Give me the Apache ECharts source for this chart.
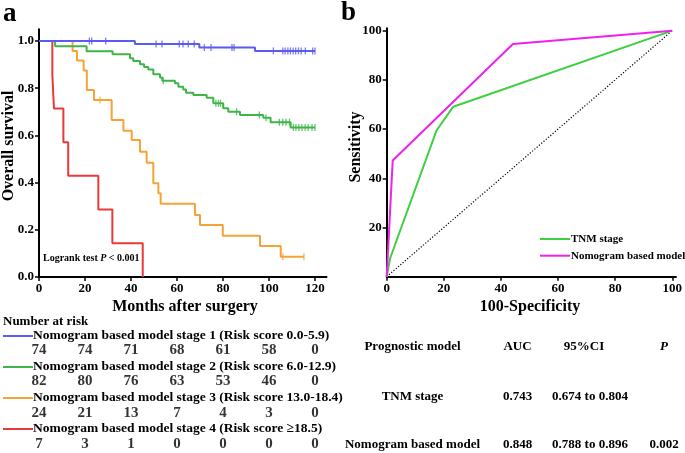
<!DOCTYPE html>
<html><head><meta charset="utf-8">
<script src="https://cdn.jsdelivr.net/npm/echarts@6/dist/echarts.min.js"></script>
<style>html,body{margin:0;padding:0;background:#fff}#c{width:685px;height:453px}</style>
</head><body><div id="c"></div>
<script>
// ---------- DATA ----------
const monthTicks = [0, 20, 40, 60, 80, 100, 120];
const survTicks = [0, 0.2, 0.4, 0.6, 0.8, 1.0];

const stageNames = [
  'Nomogram based model stage 1 (Risk score 0.0-5.9)',
  'Nomogram based model stage 2 (Risk score 6.0-12.9)',
  'Nomogram based model stage 3 (Risk score 13.0-18.4)',
  'Nomogram based model stage 4 (Risk score \u226518.5)'
];

// Kaplan-Meier step points: event time (months) and survival after the event
const s1Time = [0, 41.7, 69.7, 93.9, 120];
const s1Surv = [1, 0.987, 0.972, 0.958, 0.958];
const s1Cens = [21.9, 22.9, 29, 50.9, 53.5, 61, 62.6, 64.9, 67.5, 71.9, 74.8, 83.9, 84.8, 101.9, 106, 107, 108.2, 109.3, 110.5, 111.6, 112.8, 114, 115.8, 119, 120];

const s2Time = [0, 7, 20.7, 32, 39.6, 41, 43.9, 45.7, 47.5, 49.7, 52.6, 53.6, 59.1, 60.6, 62.7, 63.9, 67.1, 72.9, 75.8, 80.1, 82.3, 87.4, 97.5, 100.7, 109.4, 120];
const s2Surv = [1, 0.978, 0.957, 0.944, 0.927, 0.915, 0.901, 0.89, 0.879, 0.859, 0.845, 0.832, 0.821, 0.806, 0.795, 0.781, 0.771, 0.76, 0.736, 0.715, 0.7, 0.686, 0.675, 0.656, 0.634, 0.634];
const s2Cens = [54, 76.9, 78, 78.9, 85.9, 95.8, 98.7, 104.5, 106, 107.4, 108.9, 110.6, 111.7, 113, 114.3, 115.7, 117, 118.7, 120];

const s3Time = [0, 14.6, 16.5, 19.4, 20.8, 23.9, 31.6, 36.7, 40.3, 43.9, 46.8, 49.7, 51.9, 52.9, 67.8, 70, 79.9, 96.1, 105.1, 115.2];
const s3Surv = [1, 0.958, 0.917, 0.875, 0.792, 0.75, 0.665, 0.62, 0.58, 0.531, 0.484, 0.397, 0.355, 0.31, 0.263, 0.22, 0.175, 0.131, 0.086, 0.086];
const s3Cens = [26.5, 106, 115.2];

const s4Time = [0, 5.8, 6.5, 10.6, 12.7, 25.8, 31.9, 45.1];
const s4Surv = [1, 0.857, 0.714, 0.571, 0.429, 0.286, 0.143, 0];
const s4Cens = [];

const riskTimes = [0, 20, 40, 60, 80, 100, 120];
const risk1 = [74, 74, 71, 68, 61, 58, 0];
const risk2 = [82, 80, 76, 63, 53, 46, 0];
const risk3 = [24, 21, 13, 7, 4, 3, 0];
const risk4 = [7, 3, 1, 0, 0, 0, 0];

// ROC curves (100-Specificity, Sensitivity)
const rocTicks = [0, 20, 40, 60, 80, 100];
const tnmX = [0, 1.2, 17.4, 23.3, 100];
const tnmY = [0, 7.5, 59.3, 69.1, 100];
const nomoX = [0, 2.1, 44.2, 100];
const nomoY = [0, 47.2, 94.6, 100];
const refX = [0, 100];
const refY = [0, 100];

const tableHeader = ['Prognostic model', 'AUC', '95%CI', 'P'];
const tableRows = [
  ['TNM stage', '0.743', '0.674 to 0.804', ''],
  ['Nomogram based model', '0.848', '0.788 to 0.896', '0.002']
];

// ---------- STYLE ----------
const FONT = '"Liberation Serif", "Times New Roman", serif';
const colors = ['#5b5bf2', '#3db549', '#f7a236', '#e63a3a'];
const rocGreen = '#3fcf3f', rocMag = '#ee22ee';

function pairs(xs, ys) { return xs.map((x, i) => [x, ys[i]]); }
function survAt(times, surv, t) {
  let v = surv[0];
  for (let i = 0; i < times.length; i++) { if (times[i] <= t) v = surv[i]; }
  return v;
}

const kmTimes = [s1Time, s2Time, s3Time, s4Time];
const kmSurv = [s1Surv, s2Surv, s3Surv, s4Surv];
const kmCens = [s1Cens, s2Cens, s3Cens, s4Cens];
const risks = [risk1, risk2, risk3, risk4];

const chart = echarts.init(document.getElementById('c'), null, { renderer: 'canvas' });

const axisText = { fontFamily: FONT, fontWeight: 'bold', fontSize: 13, color: '#000' };
function valAxis(grid, min, max, ticks, fmt, extra) {
  return Object.assign({
    gridIndex: grid, type: 'value', min: min, max: max,
    axisLine: { show: true, onZero: false, lineStyle: { color: '#000', width: 2 } },
    axisTick: { show: true, customValues: ticks, length: 4, lineStyle: { color: '#000', width: 1.5 } },
    axisLabel: Object.assign({ customValues: ticks, margin: 5, formatter: fmt }, axisText),
    splitLine: { show: false }
  }, extra || {});
}

const series = [];
for (let k = 0; k < 4; k++) {
  series.push({
    type: 'line', xAxisIndex: 0, yAxisIndex: 0, step: 'end', showSymbol: false,
    data: pairs(kmTimes[k], kmSurv[k]), lineStyle: { color: colors[k], width: 2 }, z: 5 - k
  });
  series.push({
    type: 'scatter', xAxisIndex: 0, yAxisIndex: 0,
    data: kmCens[k].map(t => [t, survAt(kmTimes[k], kmSurv[k], t)]),
    symbol: 'rect', symbolSize: [1.3, 7], itemStyle: { color: colors[k] }, z: 6
  });
  series.push({
    type: 'scatter', xAxisIndex: 2, yAxisIndex: 2,
    data: riskTimes.map((t, i) => [t, k, risks[k][i]]),
    symbol: 'circle', symbolSize: 1, itemStyle: { color: 'rgba(0,0,0,0)' },
    label: { show: true, position: 'inside', formatter: p => String(p.value[2]),
      fontFamily: FONT, fontWeight: 'bold', fontSize: 15, color: '#000' }
  });
}
series.push({ type: 'line', xAxisIndex: 1, yAxisIndex: 1, showSymbol: false, data: pairs(refX, refY),
  lineStyle: { color: '#000', width: 1.2, type: [1.2, 1.8] } });
series.push({ type: 'line', xAxisIndex: 1, yAxisIndex: 1, showSymbol: false, data: pairs(tnmX, tnmY),
  lineStyle: { color: rocGreen, width: 2 } });
series.push({ type: 'line', xAxisIndex: 1, yAxisIndex: 1, showSymbol: false, data: pairs(nomoX, nomoY),
  lineStyle: { color: rocMag, width: 2 } });

const graphic = [];
function txt(x, y, s, size, opts) {
  graphic.push(Object.assign({ type: 'text', x: x, y: y,
    style: Object.assign({ text: s, font: 'bold ' + size + 'px ' + FONT, fill: '#000',
      textAlign: 'left', textVerticalAlign: 'middle' }, (opts && opts.style) || {}) },
    opts && opts.el || {}));
}
txt(3, 14, 'a', 27);
txt(341, 13, 'b', 27);
txt(9, 146, 'Overall survival', 16, { style: { textAlign: 'center' }, el: { rotation: Math.PI / 2 } });
txt(356, 147, 'Sensitivity', 16, { style: { textAlign: 'center' }, el: { rotation: Math.PI / 2 } });
txt(185, 307, 'Months after surgery', 16, { style: { textAlign: 'center' } });
txt(530, 307, '100-Specificity', 16, { style: { textAlign: 'center' } });
txt(3, 322, 'Number at risk', 13);
graphic.push({ type: 'text', x: 43, y: 258,
  style: { rich: { a: { font: 'bold 10px ' + FONT, fill: '#000' }, b: { font: 'italic bold 10px ' + FONT, fill: '#000' } },
    text: '{a|Logrank test }{b|P}{a| < 0.001}', textVerticalAlign: 'middle' } });

const rowY = [336, 367, 398, 429];
for (let k = 0; k < 4; k++) {
  graphic.push({ type: 'line', shape: { x1: 3, y1: rowY[k], x2: 33, y2: rowY[k] }, style: { stroke: colors[k], lineWidth: 2 } });
  txt(33, rowY[k], stageNames[k], 13.5);
}
// ROC legend
graphic.push({ type: 'line', shape: { x1: 540, y1: 239, x2: 570, y2: 239 }, style: { stroke: rocGreen, lineWidth: 2 } });
txt(571, 239, 'TNM stage', 11);
graphic.push({ type: 'line', shape: { x1: 540, y1: 255.7, x2: 570, y2: 255.7 }, style: { stroke: rocMag, lineWidth: 2 } });
txt(571, 255.7, 'Nomogram based model', 11);
// ROC table
const colX = [412.5, 517.5, 584, 664];
const tRowY = [347, 397, 445];
tableHeader.forEach((h, i) => txt(colX[i], tRowY[0], h, 13, { style: { textAlign: 'center', font: (i === 3 ? 'italic ' : '') + 'bold 13px ' + FONT } }));
tableRows.forEach((r, j) => r.forEach((c, i) => { if (c) txt(i === 2 ? 590 : colX[i], tRowY[j + 1], c, 13, { style: { textAlign: 'center' } }); }));

chart.setOption({
  animation: false,
  backgroundColor: '#fff',
  grid: [
    { left: 39, top: 29.2, width: 287.5, height: 247.8 },
    { left: 386.7, top: 28.2, width: 290, height: 248.5 },
    { left: 39, top: 350, width: 287.5, height: 94 }
  ],
  xAxis: [
    valAxis(0, 0, 125, monthTicks, v => String(v)),
    valAxis(1, 0, 101.3, rocTicks, v => String(v)),
    { gridIndex: 2, type: 'value', min: 0, max: 125, show: false }
  ],
  yAxis: [
    valAxis(0, 0, 1.05, survTicks, v => v.toFixed(1)),
    valAxis(1, 0, 101, rocTicks.filter(v => v > 0), v => String(v)),
    { gridIndex: 2, type: 'value', min: 0, max: 3, inverse: true, show: false }
  ],
  series: series,
  graphic: graphic
});
</script></body></html>
